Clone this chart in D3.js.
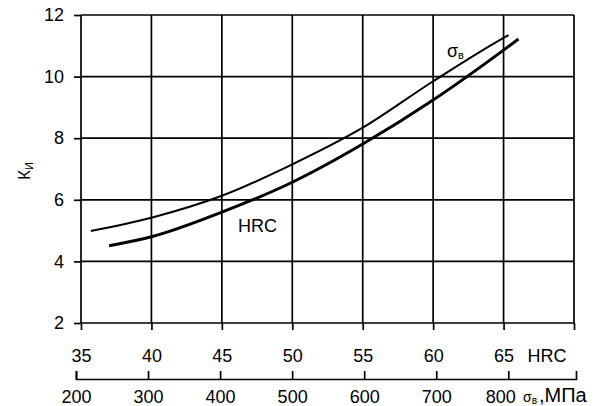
<!DOCTYPE html>
<html>
<head>
<meta charset="utf-8">
<script src="https://cdn.jsdelivr.net/npm/d3@7"></script>
<style>
  html, body { margin: 0; padding: 0; background: #fff; }
  svg text { font-family: "Liberation Sans", Arial, sans-serif; fill: #000; }
</style>
</head>
<body>
<svg id="chart" width="594" height="406"></svg>
<script>
// Hardness (HRC) ticks, strength (MPa) ticks and K ticks
const hrcTicks = [35, 40, 45, 50, 55, 60, 65];
const hrcGrid = [35, 40, 45, 50, 55, 60, 65, 70];
const mpaTicks = [200, 300, 400, 500, 600, 700, 800];
const kTicks = [2, 4, 6, 8, 10, 12];

// K vs hardness, plotted against the HRC scale
const hrcCurveX = [37.0, 40, 45, 50, 55, 60, 65, 66.06];
const hrcCurveK = [4.51, 4.80, 5.60, 6.57, 7.81, 9.24, 10.86, 11.22];

// K vs tensile strength σв (placed on the same horizontal scale)
const sigCurveX = [35.7, 40, 45, 50, 55, 60, 65, 65.35];
const sigCurveK = [4.99, 5.42, 6.13, 7.15, 8.34, 9.85, 11.26, 11.35];

const svg = d3.select("#chart");

const plotL = 81, plotR = 574, plotT = 15, plotB = 323;
const x = d3.scaleLinear().domain([35, 70]).range([plotL, plotR]);
const y = d3.scaleLinear().domain([2, 12]).range([plotB, plotT]);
const xMpa = d3.scaleLinear().domain([200, 894]).range([76, 576]);

// grid
const grid = svg.append("g").attr("stroke", "#000").attr("stroke-width", 1.7);
grid.selectAll("line.v").data(hrcGrid).join("line").attr("class", "v")
  .attr("x1", d => x(d)).attr("x2", d => x(d))
  .attr("y1", plotT).attr("y2", plotB);
grid.selectAll("line.h").data(kTicks).join("line").attr("class", "h")
  .attr("x1", plotL).attr("x2", plotR)
  .attr("y1", d => y(d)).attr("y2", d => y(d));

// K axis
const yAxis = svg.append("g")
  .attr("transform", `translate(${plotL},0)`)
  .call(d3.axisLeft(y).tickValues(kTicks).tickSize(7).tickPadding(10).tickSizeOuter(0));
yAxis.select(".domain").remove();
yAxis.selectAll("line").attr("stroke", "#000").attr("stroke-width", 1.7);
yAxis.selectAll("text").attr("font-size", 18).attr("font-family", null);

// HRC axis
const xAxis = svg.append("g")
  .attr("transform", `translate(0,${plotB})`)
  .call(d3.axisBottom(x).tickValues(hrcGrid).tickSize(7).tickPadding(19)
    .tickFormat(d => hrcTicks.includes(d) ? d : ""));
xAxis.select(".domain").remove();
xAxis.selectAll("line").attr("stroke", "#000").attr("stroke-width", 1.7);
xAxis.selectAll("text").attr("font-size", 18).attr("font-family", null);

svg.append("text").attr("x", 547).attr("y", 361.5)
  .attr("text-anchor", "middle").attr("font-size", 18).text("HRC");

// MPa axis, ticks pointing up
const mAxis = svg.append("g")
  .attr("transform", "translate(0,379)")
  .call(d3.axisBottom(xMpa).tickValues(mpaTicks).tickSize(-8).tickSizeOuter(-8).tickPadding(11));
mAxis.select(".domain").attr("stroke", "#000").attr("stroke-width", 1.7);
mAxis.selectAll("line").attr("stroke", "#000").attr("stroke-width", 1.7);
mAxis.selectAll("text").attr("font-size", 18).attr("font-family", null)
  .attr("dx", d => d === 800 ? -8 : 0);

const unit = svg.append("text").attr("x", 523).attr("y", 402).attr("font-size", 20);
unit.append("tspan").attr("font-size", 14).text("σ");
unit.append("tspan").attr("font-size", 10).attr("dy", 2).text("в");
unit.append("tspan").attr("x", 539).attr("dy", -2).text(",МПа");

// K label
const kl = svg.append("text")
  .attr("transform", "translate(30,180) rotate(-90)")
  .attr("font-size", 17);
kl.append("tspan").text("К");
kl.append("tspan").attr("font-size", 11).attr("dy", 3).text("И");

// curves
const line = d3.line().curve(d3.curveMonotoneX);
svg.append("path")
  .attr("d", line(sigCurveX.map((v, i) => [x(v), y(sigCurveK[i])])))
  .attr("fill", "none").attr("stroke", "#000").attr("stroke-width", 2);
svg.append("path")
  .attr("d", line(hrcCurveX.map((v, i) => [x(v), y(hrcCurveK[i])])))
  .attr("fill", "none").attr("stroke", "#000").attr("stroke-width", 3);

// curve labels
const sl = svg.append("text").attr("x", 447).attr("y", 56.5).attr("font-size", 18);
sl.append("tspan").text("σ");
sl.append("tspan").attr("font-size", 11).attr("dy", 2).text("в");

svg.append("text").attr("x", 238).attr("y", 231.5).attr("font-size", 18).text("HRC");
</script>
</body>
</html>
